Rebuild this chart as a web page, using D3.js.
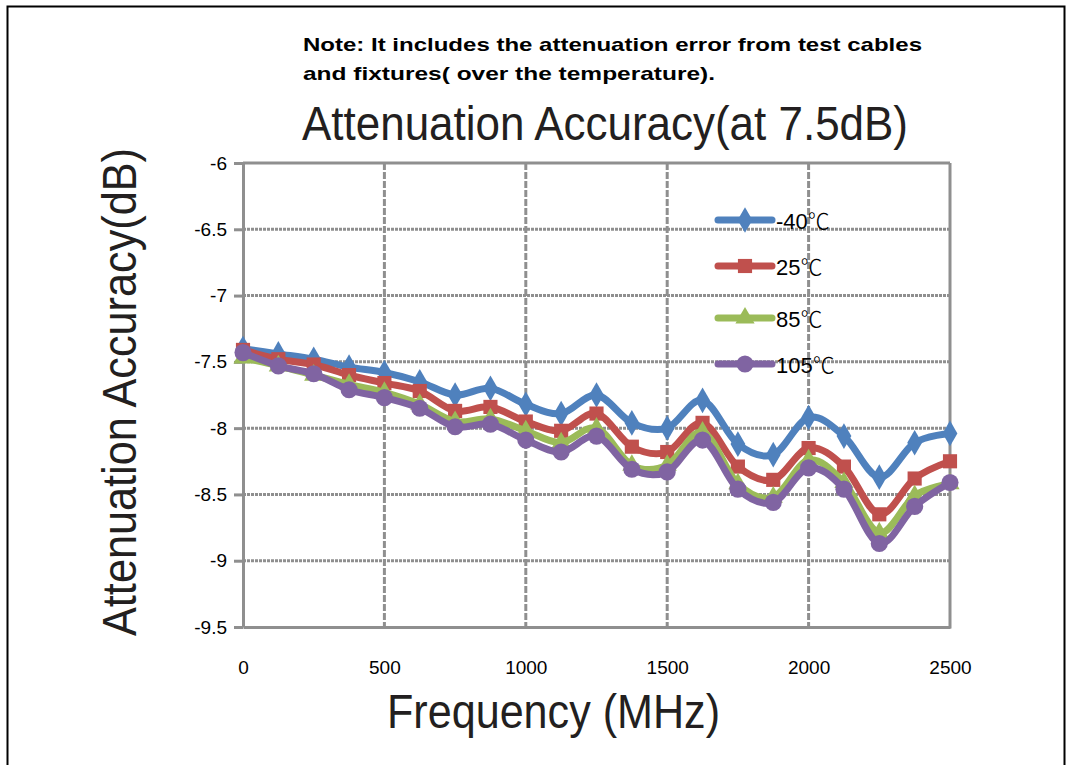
<!DOCTYPE html>
<html>
<head>
<meta charset="utf-8">
<script src="https://cdn.jsdelivr.net/npm/d3@7"></script>
<style>
  body { margin: 0; background: #fff; }
  svg { display: block; }
  .tick text { font-family: "Liberation Sans", Arial, sans-serif; }
</style>
</head>
<body>
<div id="chart"></div>
<script>
// Attenuation accuracy vs frequency at 7.5dB setting

var freq = [0, 125, 250, 375, 500, 625, 750, 875, 1000, 1125, 1250,
            1375, 1500, 1625, 1750, 1875, 2000, 2125, 2250, 2375, 2500];

var m40 = [-7.40, -7.44, -7.48, -7.54, -7.58, -7.65, -7.75, -7.70, -7.82, -7.89, -7.75,
           -7.96, -8.00, -7.79, -8.12, -8.20, -7.92, -8.06, -8.37, -8.11, -8.04];
var p25 = [-7.41, -7.48, -7.52, -7.60, -7.66, -7.72, -7.87, -7.84, -7.95, -8.02, -7.89,
           -8.14, -8.18, -7.96, -8.29, -8.39, -8.15, -8.29, -8.65, -8.38, -8.25];
var p85 = [-7.47, -7.53, -7.60, -7.67, -7.73, -7.82, -7.95, -7.93, -8.02, -8.11, -8.00,
           -8.28, -8.28, -8.03, -8.42, -8.52, -8.24, -8.41, -8.79, -8.51, -8.42];
var p105 = [-7.43, -7.53, -7.59, -7.71, -7.77, -7.85, -7.99, -7.97, -8.09, -8.18, -8.06,
            -8.31, -8.33, -8.09, -8.46, -8.56, -8.30, -8.46, -8.87, -8.59, -8.41];

var seriesNames = ["-40", "25", "85", "105"];
var seriesColors = ["#4f81bd", "#c0504d", "#9bbb59", "#8064a2"];
var seriesShapes = [d3.symbolDiamond, d3.symbolSquare, d3.symbolTriangle, d3.symbolCircle];
var seriesSizes = [190, 200, 160, 230];

var xTicks = [0, 500, 1000, 1500, 2000, 2500];
var yTicks = [-6, -6.5, -7, -7.5, -8, -8.5, -9, -9.5];

var width = 1072;
var height = 765;

var plotLeft = 243, plotRight = 950;
var plotTop = 163, plotBot = 627;
var gridColor = "#8f8f8f";

var svg = d3.select("#chart")
    .append("svg")
    .attr("width", width)
    .attr("height", height);

// outer frame
svg.append("rect")
    .attr("x", 7.5).attr("y", 6.5)
    .attr("width", 1057).attr("height", 780)
    .attr("fill", "#fff")
    .attr("stroke", "#000")
    .attr("stroke-width", 2);

var x = d3.scaleLinear().domain([0, 2500]).range([plotLeft, plotRight]);
var y = d3.scaleLinear().domain([-9.5, -6]).range([plotBot, plotTop]);

// grid
var grid = svg.append("g");
grid.selectAll("line.hg")
    .data(yTicks.filter(function(d) { return d !== -9.5; }))
    .enter().append("line")
    .attr("x1", plotLeft).attr("x2", plotRight)
    .attr("y1", function(d) { return y(d); })
    .attr("y2", function(d) { return y(d); })
    .attr("stroke", gridColor)
    .attr("stroke-width", 3)
    .attr("stroke-dasharray", function(d) { return d === -6 ? null : "3,1"; });
grid.selectAll("line.vg")
    .data(xTicks.filter(function(d) { return d !== 0 && d !== 2500; }))
    .enter().append("line")
    .attr("x1", function(d) { return x(d); })
    .attr("x2", function(d) { return x(d); })
    .attr("y1", plotTop).attr("y2", plotBot)
    .attr("stroke", gridColor)
    .attr("stroke-width", 3)
    .attr("stroke-dasharray", "7,2");
grid.append("line")
    .attr("x1", x(2500)).attr("x2", x(2500))
    .attr("y1", plotTop).attr("y2", plotBot + 1.5)
    .attr("stroke", gridColor).attr("stroke-width", 3);

// axes
var yAxis = d3.axisLeft(y).tickValues(yTicks).tickSize(9).tickPadding(7)
    .tickSizeOuter(0)
    .tickFormat(function(d) { return String(d); });
var gy = svg.append("g")
    .attr("transform", "translate(" + plotLeft + ",0)")
    .call(yAxis);
gy.select(".domain").attr("stroke", gridColor).attr("stroke-width", 3);
gy.selectAll(".tick line").attr("stroke", gridColor).attr("stroke-width", 3);
gy.selectAll(".tick text").attr("font-size", 19).attr("fill", "#000");

var xAxis = d3.axisBottom(x).tickValues(xTicks).tickSize(0).tickPadding(34)
    .tickSizeOuter(0)
    .tickFormat(d3.format("d"));
var gx = svg.append("g")
    .attr("transform", "translate(0," + plotBot + ")")
    .call(xAxis);
gx.select(".domain").attr("stroke", gridColor).attr("stroke-width", 3);
gx.selectAll(".tick text").attr("font-size", 19).attr("fill", "#000");

// series
var allSeries = [m40, p25, p85, p105];
var line = d3.line()
    .x(function(d, i) { return x(freq[i]); })
    .y(function(d) { return y(d); })
    .curve(d3.curveCatmullRom.alpha(0));

allSeries.forEach(function(vals, s) {
    svg.append("path")
        .datum(vals)
        .attr("d", line)
        .attr("fill", "none")
        .attr("stroke", seriesColors[s])
        .attr("stroke-width", 7)
        .attr("stroke-linejoin", "round");
    svg.selectAll(null)
        .data(vals)
        .enter().append("path")
        .attr("d", d3.symbol().type(seriesShapes[s]).size(seriesSizes[s]))
        .attr("transform", function(d, i) {
            return "translate(" + x(freq[i]) + "," + y(d) + ")";
        })
        .attr("fill", seriesColors[s]);
});

// legend
var legendY = [220, 266, 318, 364];
var legend = svg.append("g");
seriesNames.forEach(function(name, s) {
    var ly = legendY[s];
    legend.append("line")
        .attr("x1", 718).attr("x2", 772)
        .attr("y1", ly).attr("y2", ly)
        .attr("stroke", seriesColors[s])
        .attr("stroke-width", 7)
        .attr("stroke-linecap", "round");
    legend.append("path")
        .attr("d", d3.symbol().type(seriesShapes[s]).size(seriesSizes[s]))
        .attr("transform", "translate(745," + ly + ")")
        .attr("fill", seriesColors[s]);
    var t = legend.append("text")
        .attr("x", 776).attr("y", ly + 9)
        .attr("font-family", "Liberation Sans, Arial, sans-serif")
        .attr("font-size", 22)
        .attr("fill", "#000");
    t.append("tspan").text(name);
    t.append("tspan")
        .attr("font-family", "Noto Sans CJK SC, sans-serif")
        .attr("font-weight", 300)
        .attr("font-size", 22)
        .text("\u2103");
});

// note + titles
var note = svg.append("g")
    .attr("font-family", "Liberation Sans, Arial, sans-serif")
    .attr("font-weight", "bold")
    .attr("font-size", 19);
note.append("text").attr("x", 303).attr("y", 51)
    .attr("textLength", 619).attr("lengthAdjust", "spacingAndGlyphs")
    .text("Note: It includes the attenuation error from test cables");
note.append("text").attr("x", 303).attr("y", 80)
    .attr("textLength", 412).attr("lengthAdjust", "spacingAndGlyphs")
    .text("and fixtures( over the temperature).");

svg.append("text")
    .attr("x", 302).attr("y", 140)
    .attr("font-family", "Liberation Sans, Arial, sans-serif")
    .attr("font-size", 48)
    .attr("fill", "#231f20")
    .attr("textLength", 606).attr("lengthAdjust", "spacingAndGlyphs")
    .text("Attenuation Accuracy(at 7.5dB)");

svg.append("text")
    .attr("x", 387).attr("y", 728)
    .attr("font-family", "Liberation Sans, Arial, sans-serif")
    .attr("font-size", 48)
    .attr("fill", "#231f20")
    .attr("textLength", 333).attr("lengthAdjust", "spacingAndGlyphs")
    .text("Frequency (MHz)");

svg.append("text")
    .attr("transform", "translate(136,636) rotate(-90)")
    .attr("font-family", "Liberation Sans, Arial, sans-serif")
    .attr("font-size", 48)
    .attr("fill", "#231f20")
    .attr("textLength", 488).attr("lengthAdjust", "spacingAndGlyphs")
    .text("Attenuation Accuracy(dB)");
</script>
</body>
</html>
